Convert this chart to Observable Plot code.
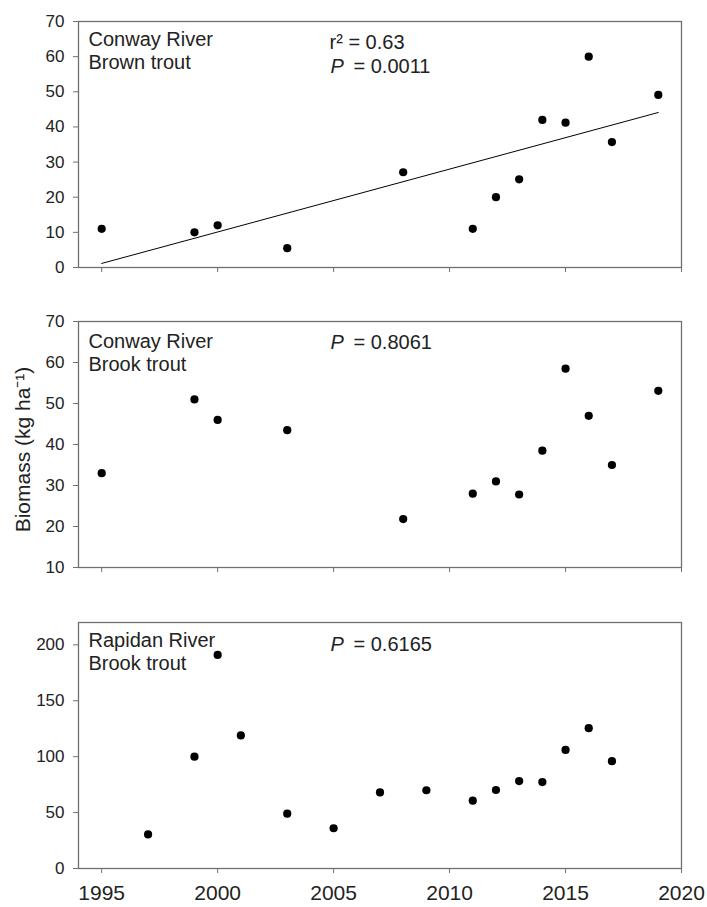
<!DOCTYPE html>
<html>
<head>
<meta charset="utf-8">
<script src="https://cdn.jsdelivr.net/npm/d3@7"></script>
<script src="https://cdn.jsdelivr.net/npm/@observablehq/plot@0.6"></script>
<style>
  body { margin: 0; background: white; }
  #chart { width: 707px; }
  #chart svg { display: block; }
</style>
</head>
<body>
<div id="chart"></div>
<script>
// ---- data ----
const yearsConwayBrown = [1995, 1999, 2000, 2003, 2008, 2011, 2012, 2013, 2014, 2015, 2016, 2017, 2019];
const biomassConwayBrown = [11, 10, 12, 5.5, 27.1, 11, 20, 25.1, 42, 41.2, 60, 35.7, 49.1];

const yearsConwayBrook = [1995, 1999, 2000, 2003, 2008, 2011, 2012, 2013, 2014, 2015, 2016, 2017, 2019];
const biomassConwayBrook = [33, 51, 46, 43.5, 21.8, 28, 31, 27.8, 38.5, 58.5, 47, 35, 53.1];

const yearsRapidanBrook = [1997, 1999, 2000, 2001, 2003, 2005, 2007, 2009, 2011, 2012, 2013, 2014, 2015, 2016, 2017];
const biomassRapidanBrook = [30.5, 100, 191, 119, 49, 36, 68, 70, 60.7, 70.2, 78.2, 77.3, 106, 125.5, 96];

const panelLabels = ["Conway River\nBrown trout", "Conway River\nBrook trout", "Rapidan River\nBrook trout"];
const pValues = ["= 0.0011", "= 0.8061", "= 0.6165"];
const r2Text = "r\u00B2 = 0.63";
const yAxisLabel = "Biomass (kg ha\u207B\u00B9)";

const xTicks = [1995, 2000, 2005, 2010, 2015, 2020];
const yTicks1 = [0, 10, 20, 30, 40, 50, 60, 70];
const yTicks2 = [10, 20, 30, 40, 50, 60, 70];
const yTicks3 = [0, 50, 100, 150, 200];

// ---- helpers ----
const FONT = "Liberation Sans, Arial, sans-serif";
const GREY = "#707070";
const TXT = "#222";

function toRows(years, values) {
  return years.map((year, i) => ({year, value: values[i]}));
}

function panel({rows, yDomain, yTicks, label, pText, r2, regression, showXLabels, yLabel,
                height, marginTop, marginBottom, labelDy, pDy}) {
  const marks = [
    Plot.frame({stroke: GREY, strokeWidth: 1.3}),
    Plot.axisX({
      ticks: xTicks, tickSize: 5, tickPadding: 12, fontSize: 21,
      stroke: GREY, fill: TXT, label: null,
      tickFormat: showXLabels ? (d => String(d)) : (() => "")
    }),
    Plot.axisY({
      ticks: yTicks, tickSize: 5, tickPadding: 9, fontSize: 17,
      stroke: GREY, fill: TXT, label: null, tickFormat: d => String(d)
    }),
    Plot.text([label], {
      frameAnchor: "top-left", textAnchor: "start", lineAnchor: "top",
      dx: 10, dy: labelDy, fontSize: 20, lineHeight: 1.15, fill: TXT
    })
  ];
  if (r2) {
    marks.push(Plot.text([r2], {
      frameAnchor: "top-left", textAnchor: "start", lineAnchor: "top",
      dx: 251, dy: pDy, fontSize: 20, fill: TXT
    }));
  }
  const pLineDy = r2 ? pDy + 24 : pDy;
  marks.push(Plot.text(["P"], {
    frameAnchor: "top-left", textAnchor: "start", lineAnchor: "top",
    dx: 252, dy: pLineDy, fontSize: 20, fontStyle: "italic", fill: TXT
  }));
  marks.push(Plot.text([pText], {
    frameAnchor: "top-left", textAnchor: "start", lineAnchor: "top",
    dx: 275, dy: pLineDy, fontSize: 20, fill: TXT
  }));
  if (regression) {
    marks.push(Plot.linearRegressionY(rows, {x: "year", y: "value", ci: 0, stroke: "#000", strokeWidth: 1}));
  }
  marks.push(Plot.dot(rows, {x: "year", y: "value", r: 4.1, fill: "#000", stroke: "none"}));
  if (yLabel) {
    marks.push(Plot.text([yLabel], {
      frameAnchor: "left", textAnchor: "middle", lineAnchor: "middle",
      rotate: -90, dx: -55, dy: 5, fontSize: 21, fill: TXT
    }));
  }
  return Plot.plot({
    width: 707, height, marginLeft: 78, marginRight: 26, marginTop, marginBottom,
    style: {fontFamily: FONT, color: TXT, background: "white", overflow: "visible"},
    x: {domain: [1994, 2020]},
    y: {domain: yDomain},
    marks
  });
}

const chart = document.getElementById("chart");
chart.append(panel({
  rows: toRows(yearsConwayBrown, biomassConwayBrown), yDomain: [0, 70], yTicks: yTicks1,
  label: panelLabels[0], pText: pValues[0], r2: r2Text, regression: true, showXLabels: false,
  height: 300, marginTop: 21, marginBottom: 33, labelDy: 8, pDy: 13
}));
chart.append(panel({
  rows: toRows(yearsConwayBrook, biomassConwayBrook), yDomain: [10, 70], yTicks: yTicks2,
  label: panelLabels[1], pText: pValues[1], r2: null, regression: false, showXLabels: false,
  yLabel: yAxisLabel,
  height: 300, marginTop: 21, marginBottom: 33, labelDy: 10, pDy: 13
}));
chart.append(panel({
  rows: toRows(yearsRapidanBrook, biomassRapidanBrook), yDomain: [0, 220], yTicks: yTicks3,
  label: panelLabels[2], pText: pValues[2], r2: null, regression: false, showXLabels: true,
  height: 307, marginTop: 22, marginBottom: 39, labelDy: 8, pDy: 14
}));
</script>
</body>
</html>
